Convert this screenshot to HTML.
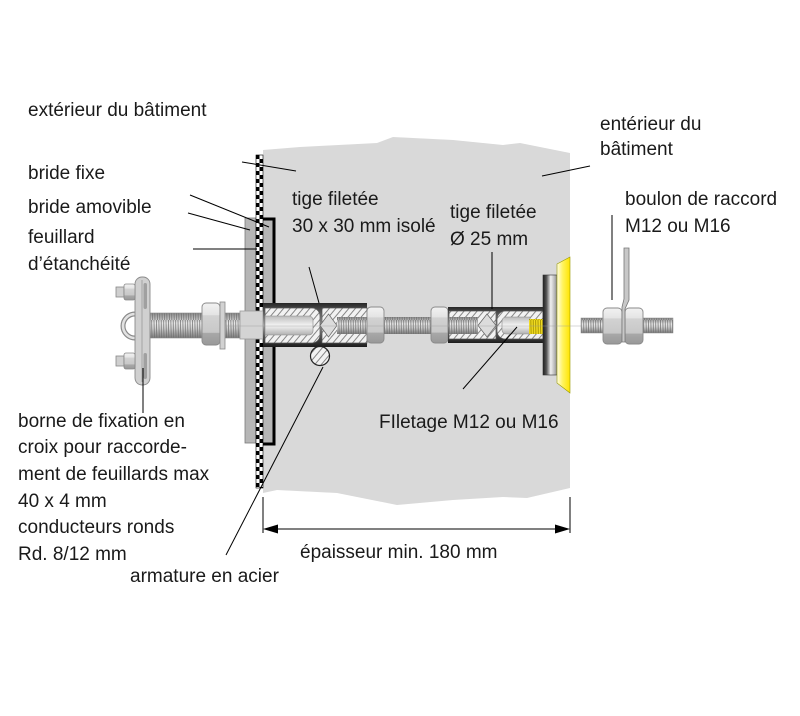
<!DOCTYPE html>
<html>
<head>
<meta charset="utf-8">
<style>
  html,body{margin:0;padding:0;background:#fff;}
  svg{display:block;}
  text{font-family:"Liberation Sans",Arial,sans-serif;font-size:19px;fill:#1a1a1a;}
</style>
</head>
<body>
<svg width="800" height="716" viewBox="0 0 800 716" xmlns="http://www.w3.org/2000/svg">
  <defs>
    <pattern id="checker" x="256" y="155" width="7" height="8" patternUnits="userSpaceOnUse">
      <rect width="7" height="8" fill="#fff"/>
      <rect x="0" y="0" width="3.5" height="4" fill="#000"/>
      <rect x="3.5" y="4" width="3.5" height="4" fill="#000"/>
    </pattern>
    <pattern id="thr" width="2.4" height="40" patternUnits="userSpaceOnUse">
      <line x1="0.4" y1="0" x2="1.4" y2="40" stroke="#6a6a6a" stroke-width="0.7"/>
    </pattern>
    <pattern id="hatch" width="5" height="5" patternUnits="userSpaceOnUse" patternTransform="rotate(40)">
      <rect width="5" height="5" fill="#f2f2f2"/>
      <line x1="0" y1="0" x2="0" y2="5" stroke="#7a7a7a" stroke-width="1.8"/>
    </pattern>
    <pattern id="ythr" width="2.4" height="40" patternUnits="userSpaceOnUse">
      <line x1="0.4" y1="0" x2="1.4" y2="40" stroke="#9a8a00" stroke-width="0.8"/>
    </pattern>
    <linearGradient id="tubeG" x1="0" y1="0" x2="0" y2="1">
      <stop offset="0" stop-color="#262626"/>
      <stop offset="0.25" stop-color="#666"/>
      <stop offset="0.5" stop-color="#a6a6a6"/>
      <stop offset="0.75" stop-color="#555"/>
      <stop offset="1" stop-color="#1c1c1c"/>
    </linearGradient>
    <linearGradient id="rodG" x1="0" y1="0" x2="0" y2="1">
      <stop offset="0" stop-color="#8a8a8a"/>
      <stop offset="0.4" stop-color="#e8e8e8"/>
      <stop offset="0.6" stop-color="#d2d2d2"/>
      <stop offset="1" stop-color="#7a7a7a"/>
    </linearGradient>
    <linearGradient id="nutG" x1="0" y1="0" x2="0" y2="1">
      <stop offset="0" stop-color="#f2f2f2"/>
      <stop offset="0.28" stop-color="#e4e4e4"/>
      <stop offset="0.3" stop-color="#d2d2d2"/>
      <stop offset="0.7" stop-color="#c8c8c8"/>
      <stop offset="0.72" stop-color="#a8a8a8"/>
      <stop offset="1" stop-color="#999"/>
    </linearGradient>
    <linearGradient id="ringG" x1="0" y1="0" x2="1" y2="0">
      <stop offset="0" stop-color="#1e1e1e"/>
      <stop offset="0.25" stop-color="#555"/>
      <stop offset="0.55" stop-color="#f0f0f0"/>
      <stop offset="0.8" stop-color="#bdbdbd"/>
      <stop offset="1" stop-color="#8a8a8a"/>
    </linearGradient>
    <linearGradient id="yelG" x1="0" y1="0" x2="1" y2="0">
      <stop offset="0" stop-color="#fffde6"/>
      <stop offset="0.45" stop-color="#fff35c"/>
      <stop offset="1" stop-color="#ffe400"/>
    </linearGradient>
    <linearGradient id="boreG" x1="0" y1="0" x2="0" y2="1">
      <stop offset="0" stop-color="#bcbcbc"/>
      <stop offset="0.5" stop-color="#f4f4f4"/>
      <stop offset="1" stop-color="#b0b0b0"/>
    </linearGradient>
  </defs>

  <!-- Wall -->
  <polygon points="263,150 300,147 377,143 393,137 453,140 503,145 520,143 570,153 570,488 527,498 503,497 453,500 397,505 337,493 277,490 263,493" fill="#d9d9d9"/>

  <!-- Left flange (bride amovible) -->
  <rect x="245" y="218" width="11" height="225" fill="#b6b6b6" stroke="#7a7a7a" stroke-width="0.8"/>
  <!-- Right flange (bride fixe) -->
  <rect x="263" y="218" width="10" height="226" fill="#b6b6b6"/>
  <polyline points="263,219 274,219 274,303" fill="none" stroke="#000" stroke-width="3"/>
  <polyline points="274,347 274,444 263,444" fill="none" stroke="#000" stroke-width="3"/>

  <!-- Checker strip -->
  <rect x="256" y="155" width="7" height="333" fill="url(#checker)"/>
  <rect x="256" y="155" width="7" height="333" fill="none" stroke="#000" stroke-width="0.6"/>

  <!-- Left hardware: clamp -->
  <rect x="150" y="313" width="90" height="25" fill="url(#rodG)"/>
  <rect x="150" y="313" width="90" height="25" fill="url(#thr)"/>
  <rect x="150" y="313" width="90" height="25" fill="none" stroke="#8a8a8a" stroke-width="0.6"/>
  <path d="M135,314 A12,12 0 0 0 135,338" fill="none" stroke="#8a8a8a" stroke-width="5"/>
  <path d="M135,314 A12,12 0 0 0 135,338" fill="none" stroke="#e2e2e2" stroke-width="2.6"/>
  <rect x="135" y="277" width="15" height="108" rx="7" fill="#d0d0d0" stroke="#8a8a8a" stroke-width="0.9"/>
  <line x1="142" y1="280" x2="142" y2="382" stroke="#9a9a9a" stroke-width="0.8"/>
  <rect x="143.5" y="283" width="3.5" height="26" rx="1.7" fill="#a0a0a0"/>
  <rect x="143.5" y="353" width="3.5" height="26" rx="1.7" fill="#a0a0a0"/>
  <rect x="116" y="287" width="8" height="10" fill="#cfcfcf" stroke="#888" stroke-width="0.8"/>
  <rect x="124" y="284" width="11" height="16" rx="2" fill="url(#nutG)" stroke="#888" stroke-width="0.8"/>
  <rect x="116" y="356" width="8" height="10" fill="#cfcfcf" stroke="#888" stroke-width="0.8"/>
  <rect x="124" y="353" width="11" height="16" rx="2" fill="url(#nutG)" stroke="#888" stroke-width="0.8"/>
  <!-- left nut & washer -->
  <rect x="202" y="303" width="18" height="42" rx="4" fill="url(#nutG)" stroke="#8a8a8a" stroke-width="0.9"/>
  <rect x="220" y="302" width="5" height="47" fill="#d2d2d2" stroke="#8a8a8a" stroke-width="0.8"/>
  <!-- block -->
  <rect x="240" y="311" width="23" height="28" fill="#d4d4d4" stroke="#9a9a9a" stroke-width="0.8"/>

  <!-- Left tube -->
  <path d="M263,303 L367,303 L367,347 L263,347 Z" fill="url(#tubeG)"/>
  <path d="M265,308 L312,308 A8,8 0 0 1 320,316 L320,335 A8,8 0 0 1 312,343 L265,343 Z" fill="url(#hatch)" stroke="#555" stroke-width="0.7"/>
  <path d="M265,316 L309,316 A4,4 0 0 1 313,320 L313,331 A4,4 0 0 1 309,335 L265,335 Z" fill="url(#boreG)" stroke="#888" stroke-width="0.6"/>
  <rect x="322" y="308" width="45" height="35" fill="url(#hatch)" stroke="#555" stroke-width="0.7"/>
  <polygon points="320,325.5 328.5,314 337,325.5 328.5,337" fill="#dcdcdc" stroke="#666" stroke-width="0.7"/>
  <rect x="337" y="317" width="30" height="17" fill="url(#rodG)"/>
  <rect x="337" y="317" width="30" height="17" fill="url(#thr)"/>

  <!-- middle nuts and rod -->
  <rect x="384" y="317" width="47" height="17" fill="url(#rodG)"/>
  <rect x="384" y="317" width="47" height="17" fill="url(#thr)"/>
  <rect x="367" y="307" width="17" height="36" rx="4" fill="url(#nutG)" stroke="#8a8a8a" stroke-width="0.9"/>
  <rect x="431" y="307" width="17" height="36" rx="4" fill="url(#nutG)" stroke="#8a8a8a" stroke-width="0.9"/>

  <!-- Right tube -->
  <rect x="448" y="307" width="95" height="36" fill="url(#tubeG)"/>
  <rect x="449" y="311" width="47" height="28" fill="url(#hatch)" stroke="#555" stroke-width="0.7"/>
  <rect x="449" y="317" width="29" height="17" fill="url(#rodG)"/>
  <rect x="449" y="317" width="29" height="17" fill="url(#thr)"/>
  <polygon points="478,325.5 487,314 496,325.5 487,337" fill="#dcdcdc" stroke="#666" stroke-width="0.7"/>
  <path d="M505,311 L543,311 L543,339 L505,339 A8,8 0 0 1 497,331 L497,319 A8,8 0 0 1 505,311 Z" fill="url(#hatch)" stroke="#555" stroke-width="0.7"/>
  <path d="M506,317 L530,317 L530,334 L506,334 A4,4 0 0 1 502,330 L502,321 A4,4 0 0 1 506,317 Z" fill="url(#boreG)" stroke="#888" stroke-width="0.6"/>
  <rect x="529" y="319" width="14" height="15" fill="#f2dc20"/>
  <rect x="529" y="319" width="14" height="15" fill="url(#ythr)"/>

  <!-- Ring flange and yellow -->
  <rect x="543" y="275" width="14" height="100" fill="url(#ringG)" stroke="#333" stroke-width="0.6"/>
  <polygon points="557,264 570,257 570,393 557,383" fill="url(#yelG)" stroke="#9a9a00" stroke-width="0.6"/>

  <!-- axis line -->
  <line x1="225" y1="326" x2="582" y2="326" stroke="#9c9c9c" stroke-width="0.6" opacity="0.8"/>

  <!-- Right hardware -->
  <rect x="581" y="318" width="92" height="15" fill="url(#rodG)"/>
  <rect x="581" y="318" width="92" height="15" fill="url(#thr)"/>
  <rect x="581" y="318" width="92" height="15" fill="none" stroke="#8a8a8a" stroke-width="0.5"/>
  <rect x="603" y="308" width="19" height="36" rx="4" fill="url(#nutG)" stroke="#8a8a8a" stroke-width="0.9"/>
  <rect x="625" y="308" width="18" height="36" rx="4" fill="url(#nutG)" stroke="#8a8a8a" stroke-width="0.9"/>
  <polygon points="624,248 629,248 629,300 625,309 625,342 622,342 622,307 624,299" fill="#c8c8c8" stroke="#777" stroke-width="0.8"/>

  <!-- Rebar -->
  <circle cx="320" cy="356" r="9.5" fill="url(#hatch)" stroke="#222" stroke-width="1.2"/>

  <!-- Leader lines -->
  <g stroke="#000" stroke-width="1" fill="none">
    <line x1="242" y1="162" x2="296" y2="171"/>
    <line x1="542" y1="176" x2="590" y2="166"/>
    <line x1="190" y1="195" x2="269" y2="227"/>
    <line x1="188" y1="213" x2="250" y2="230"/>
    <line x1="193" y1="249" x2="257" y2="249"/>
    <line x1="309" y1="267" x2="319" y2="303"/>
    <line x1="492" y1="252" x2="492" y2="309"/>
    <line x1="612" y1="215" x2="612" y2="300"/>
    <line x1="517" y1="327" x2="463" y2="389"/>
    <line x1="143" y1="368" x2="143" y2="413"/>
    <line x1="323" y1="367" x2="226" y2="555"/>
    <!-- dimension -->
    <line x1="263" y1="497" x2="263" y2="533"/>
    <line x1="570" y1="497" x2="570" y2="533"/>
    <line x1="270" y1="529" x2="563" y2="529"/>
  </g>
  <polygon points="263,529 278,524.5 278,533.5" fill="#000"/>
  <polygon points="570,529 555,524.5 555,533.5" fill="#000"/>

  <!-- Text -->
  <text x="28" y="116">extérieur du bâtiment</text>
  <text x="600" y="130">entérieur du</text>
  <text x="600" y="155">bâtiment</text>
  <text x="28" y="179">bride fixe</text>
  <text x="28" y="213">bride amovible</text>
  <text x="28" y="243">feuillard</text>
  <text x="28" y="270">d’étanchéité</text>
  <text x="292" y="205">tige filetée</text>
  <text x="292" y="232">30 x 30 mm isolé</text>
  <text x="450" y="218">tige filetée</text>
  <text x="450" y="245">Ø 25 mm</text>
  <text x="625" y="205">boulon de raccord</text>
  <text x="625" y="232">M12 ou M16</text>
  <text x="379" y="428">FIletage M12 ou M16</text>
  <text x="18" y="427">borne de fixation en</text>
  <text x="18" y="453">croix pour raccorde-</text>
  <text x="18" y="480">ment de feuillards max</text>
  <text x="18" y="507">40 x 4 mm</text>
  <text x="18" y="533">conducteurs ronds</text>
  <text x="18" y="560">Rd. 8/12 mm</text>
  <text x="130" y="582">armature en acier</text>
  <text x="300" y="558">épaisseur min. 180 mm</text>
</svg>
</body>
</html>
